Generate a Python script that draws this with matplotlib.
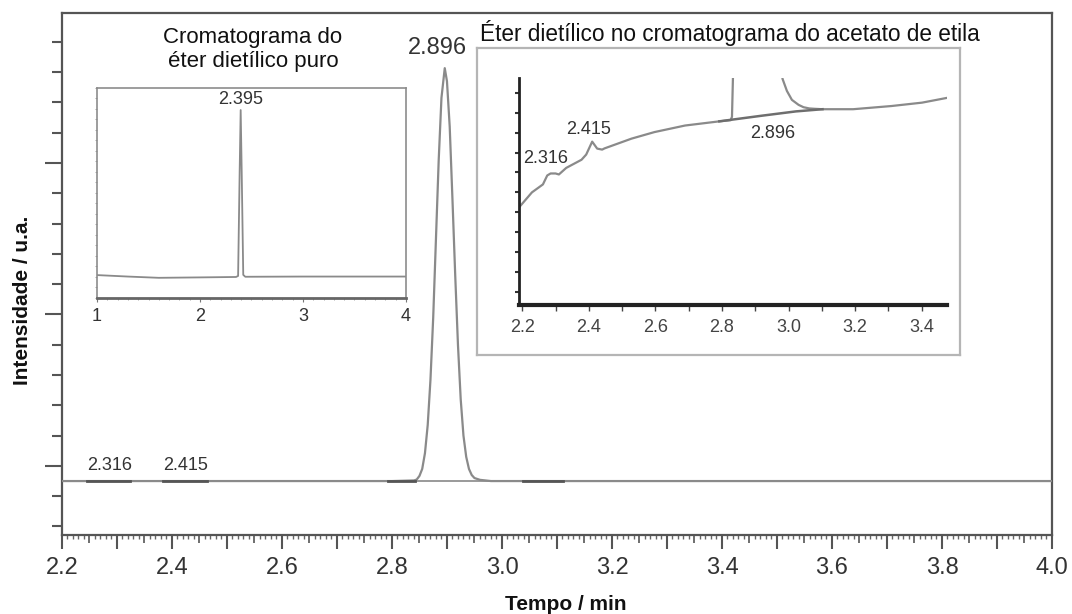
import matplotlib
matplotlib.use("Agg")
import matplotlib.pyplot as plt
from matplotlib.ticker import MultipleLocator, NullFormatter

plt.rcParams['font.family'] = ['Liberation Sans', 'DejaVu Sans']

# --- cromatograma principal (acetato de etila) ---
tempo = [2.20, 2.80, 2.84, 2.845, 2.85, 2.855, 2.86, 2.865, 2.87, 2.875, 2.88, 2.885,
         2.89, 2.896, 2.90, 2.905, 2.91, 2.915, 2.92, 2.925, 2.93, 2.935, 2.94,
         2.945, 2.95, 2.96, 2.98, 4.00]
intensidade = [0.0, 0.0, 0.02, 0.05, 0.17, 0.4, 0.92, 1.85, 3.34, 5.4, 8.0, 10.6,
               12.65, 13.63, 13.2, 11.7, 9.3, 6.8, 4.5, 2.7, 1.5, 0.8, 0.4,
               0.2, 0.1, 0.04, 0.0, 0.0]
# trechos de linha de base das integrações
integ_ini = [2.245, 2.384, 2.793, 3.038]
integ_fim = [2.324, 2.464, 2.842, 3.111]
picos_rot = ["2.316", "2.415"]
picos_rot_t = [2.286, 2.425]
pico_principal = 2.896

# --- éter dietílico puro ---
t_puro = [1.0, 1.3, 1.6, 2.0, 2.35, 2.37, 2.385, 2.395, 2.405, 2.42, 2.44, 3.0, 4.0]
i_puro = [10.9, 10.2, 9.6, 9.8, 10.0, 10.5, 60.0, 89.5, 60.0, 11.0, 10.1, 10.2, 10.2]

# --- detalhe: éter dietílico no cromatograma do acetato de etila ---
t_det = [2.191, 2.229, 2.262, 2.275, 2.285, 2.300, 2.310, 2.332, 2.378, 2.392, 2.410,
         2.425, 2.440, 2.447, 2.528, 2.597, 2.689, 2.792, 2.826, 2.830, 2.834]
i_det = [4.26, 5.0, 5.4, 5.85, 5.95, 5.95, 5.9, 6.23, 6.64, 6.9, 7.55, 7.2, 7.15, 7.21,
         7.70, 8.03, 8.36, 8.57, 8.63, 8.8, 11.5]
t_cauda = [2.975, 2.982, 2.995, 3.010, 3.030, 3.045, 3.062, 3.079, 3.102, 3.194, 3.309,
           3.401, 3.476]
i_cauda = [11.5, 10.7, 10.1, 9.65, 9.4, 9.28, 9.22, 9.2, 9.18, 9.18, 9.34, 9.51, 9.75]
t_base_det = [2.792, 2.918, 3.022, 3.102]
i_base_det = [8.57, 8.85, 9.07, 9.18]
rot_det = ["2.316", "2.415", "2.896"]
rot_det_t = [2.271, 2.400, 2.953]
rot_det_y = [6.69, 8.15, 7.98]

cor_linha = '#8a8a8a'
cor_base = '#555555'
cor_texto = '#333333'

fig = plt.figure(figsize=(10.72, 6.14), dpi=100)

# ---------- eixo principal ----------
ax = fig.add_axes([0.0578, 0.1287, 0.9235, 0.8501])
ax.plot([tempo[0], tempo[-1]], [0, 0], color='#9a9a9a', lw=1.4, zorder=2)
ax.plot(tempo, intensidade, color=cor_linha, lw=1.6, zorder=3)
for a, b in zip(integ_ini, integ_fim):
    ax.plot([a, b], [0, 0], color=cor_base, lw=2.0, zorder=4)
for txt, t in zip(picos_rot, picos_rot_t):
    ax.text(t, 0.5, txt, ha='center', va='center', fontsize=13, color=cor_texto)
ax.text(pico_principal - 0.014, 14.3, f"{pico_principal:.3f}", ha='center', va='center',
        fontsize=17, color=cor_texto)

ax.set_xlim(2.2, 4.0)
ax.set_ylim(-1.78, 15.45)
ax.xaxis.set_major_locator(MultipleLocator(0.2))
ax.xaxis.set_minor_locator(MultipleLocator(0.1))
ax.xaxis.set_major_formatter(lambda v, p: f"{v:.1f}")
ax.yaxis.set_major_locator(MultipleLocator(5, offset=0.5))
ax.yaxis.set_minor_locator(MultipleLocator(1, offset=0.5))
ax.yaxis.set_major_formatter(NullFormatter())
ax.tick_params(axis='x', which='major', length=10, width=1.5, color='#555555',
               labelsize=17, labelcolor=cor_texto, pad=6)
ax.tick_params(axis='x', which='minor', length=10, width=1.5, color='#555555')
ax.tick_params(axis='y', which='major', length=12, width=1.5, color='#555555')
ax.tick_params(axis='y', which='minor', length=7, width=1.5, color='#555555')
for s in ax.spines.values():
    s.set_color('#555555')
    s.set_linewidth(1.6)

# marcas finas do eixo de tempo
sec = ax.secondary_xaxis('bottom')
sec.xaxis.set_major_locator(MultipleLocator(0.05))
sec.xaxis.set_minor_locator(MultipleLocator(0.01))
sec.xaxis.set_major_formatter(NullFormatter())
sec.tick_params(which='major', length=6, width=1.2, color='#555555')
sec.tick_params(which='minor', length=3, width=1.0, color='#666666')
sec.spines['bottom'].set_visible(False)

fig.text(0.528, 0.016, "Tempo / min", ha='center', va='center', fontsize=15,
         fontweight='bold', color='#111111')
fig.text(0.021, 0.511, "Intensidade / u.a.", ha='center', va='center', rotation=90,
         fontsize=15, fontweight='bold', color='#111111')

# ---------- inserto: éter dietílico puro ----------
ax1 = fig.add_axes([0.0905, 0.5147, 0.2882, 0.342])
ax1.plot(t_puro, i_puro, color=cor_linha, lw=1.3)
ax1.text(2.395, 94.5, "2.395", ha='center', va='center', fontsize=13, color=cor_texto)
ax1.set_xlim(1, 4)
ax1.set_ylim(0, 100)
ax1.set_xticks([1, 2, 3, 4])
ax1.xaxis.set_minor_locator(MultipleLocator(0.1))
ax1.yaxis.set_minor_locator(MultipleLocator(5))
ax1.set_yticks([])
ax1.tick_params(axis='x', which='major', length=3, color='#777777', labelsize=13,
                labelcolor=cor_texto, pad=4)
ax1.tick_params(axis='x', which='minor', length=1.5, color='#999999')
ax1.tick_params(axis='y', which='minor', length=1.5, color='#999999')
for s in ax1.spines.values():
    s.set_color('#8c8c8c')
    s.set_linewidth(1.2)
ax1.spines['bottom'].set_color('#666666')
ax1.spines['bottom'].set_linewidth(2.0)
fig.text(0.236, 0.92, "Cromatograma do\néter dietílico puro", ha='center', va='center',
         fontsize=16, color='#111111', linespacing=1.2)

# ---------- inserto: detalhe no acetato de etila ----------
moldura = fig.add_axes([0.445, 0.4218, 0.4506, 0.5])
moldura.set_xticks([])
moldura.set_yticks([])
for s in moldura.spines.values():
    s.set_color('#b5b5b5')
    s.set_linewidth(1.6)
fig.text(0.448, 0.946, "Éter dietílico no cromatograma do acetato de etila", ha='left',
         va='center', fontsize=16.3, color='#111111')

ax2 = fig.add_axes([0.4841, 0.5033, 0.3993, 0.3697])
ax2.plot(t_det, i_det, color=cor_linha, lw=1.6)
ax2.plot(t_cauda, i_cauda, color=cor_linha, lw=1.6)
ax2.plot(t_base_det, i_base_det, color='#6e6e6e', lw=1.8)
for txt, t, y in zip(rot_det, rot_det_t, rot_det_y):
    ax2.text(t, y, txt, ha='center', va='center', fontsize=13, color=cor_texto)
ax2.set_xlim(2.19, 3.476)
ax2.set_ylim(-0.66, 10.75)
ax2.xaxis.set_major_locator(MultipleLocator(0.2))
ax2.xaxis.set_minor_locator(MultipleLocator(0.1))
ax2.xaxis.set_major_formatter(lambda v, p: f"{v:.1f}")
ax2.yaxis.set_major_locator(MultipleLocator(1))
ax2.yaxis.set_major_formatter(NullFormatter())
ax2.tick_params(axis='x', which='major', length=4, width=1.0, color='#444444',
                labelsize=13, labelcolor='#444444', pad=6)
ax2.tick_params(axis='x', which='minor', length=4, width=1.0, color='#444444')
ax2.tick_params(axis='y', which='major', length=3, width=1.5, color='#333333')
ax2.spines['top'].set_visible(False)
ax2.spines['right'].set_visible(False)
ax2.spines['left'].set_color('#222222')
ax2.spines['left'].set_linewidth(2.0)
ax2.spines['bottom'].set_color('#222222')
ax2.spines['bottom'].set_linewidth(3.0)
ax2.patch.set_alpha(0)

fig.savefig("out.png", dpi=100)
